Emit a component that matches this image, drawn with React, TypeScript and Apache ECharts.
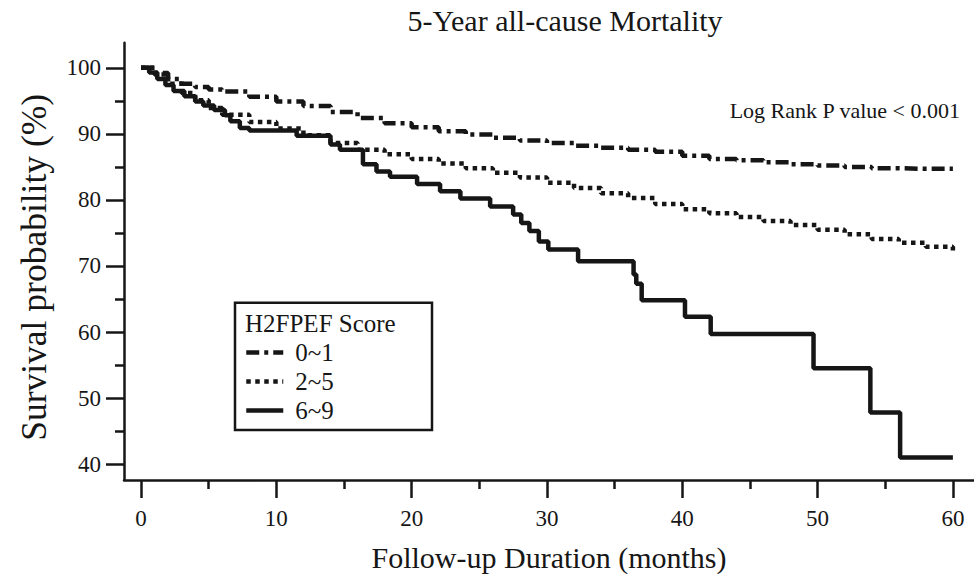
import React, { useEffect, useRef } from "react";
import * as echarts from "echarts";

// ---- Data ----
const seriesNames = ["0~1", "2~5", "6~9"];

// Score 0~1 (dash-dot)
const months01 = [0, 1, 2, 3, 4, 5, 6, 8, 10, 12, 14, 16, 18, 20, 22, 24, 26, 28, 30, 32, 34, 36, 38, 40, 42, 44, 46, 48, 50, 52, 54, 56, 58, 60];
const surv01 = [100, 99.2, 98.3, 97.6, 97.1, 96.7, 96.4, 95.6, 94.9, 94.2, 93.3, 92.4, 91.6, 91.0, 90.4, 89.9, 89.4, 89.0, 88.6, 88.2, 87.9, 87.6, 87.3, 86.7, 86.2, 86.0, 85.7, 85.4, 85.2, 85.0, 84.8, 84.7, 84.7, 84.7];

// Score 2~5 (dotted)
const months25 = [0, 1, 2, 3, 4, 5, 6, 8, 10, 12, 14, 16, 18, 20, 22, 24, 26, 28, 30, 32, 34, 36, 38, 40, 42, 44, 46, 48, 50, 52, 54, 56, 58, 60];
const surv25 = [100, 99.0, 97.6, 96.2, 95.1, 93.9, 92.9, 91.8, 90.8, 89.8, 88.6, 87.6, 86.9, 86.2, 85.5, 84.8, 84.1, 83.4, 82.6, 81.8, 81.0, 80.3, 79.4, 78.6, 78.0, 77.4, 76.8, 76.2, 75.5, 74.8, 74.1, 73.5, 72.9, 72.0];

// Score 6~9 (solid)
const months69 = [0, 0.6, 1.2, 1.8, 2.4, 3.2, 4.0, 4.6, 5.4, 6.2, 6.6, 7.3, 8.0, 11.5, 14.0, 14.7, 16.4, 17.4, 18.4, 20.4, 22.1, 23.6, 25.8, 27.5, 28.1, 28.7, 29.4, 30.1, 32.3, 36.4, 36.6, 37.0, 40.2, 42.1, 49.7, 53.9, 56.1, 60];
const surv69 = [100, 99.3, 98.3, 97.4, 96.5, 95.7, 94.9, 94.3, 93.6, 92.8, 91.9, 90.9, 90.5, 89.7, 88.4, 87.6, 85.4, 84.3, 83.5, 82.4, 81.3, 80.2, 79.0, 77.8, 76.5, 75.3, 73.7, 72.5, 70.7, 68.7, 67.3, 64.8, 62.3, 59.7, 54.5, 47.8, 41.0, 41.0];

// Axis ticks
const xMajorTicks = [0, 10, 20, 30, 40, 50, 60];
const xMinorTicks = [5, 15, 25, 35, 45, 55];
const yMajorTicks = [40, 50, 60, 70, 80, 90, 100];
const yMinorTicks = [45, 55, 65, 75, 85, 95];

const titleText = "5-Year all-cause Mortality";
const xTitle = "Follow-up Duration (months)";
const yTitle = "Survival probability (%)";
const legendTitle = "H2FPEF Score";
const pValueText = "Log Rank P value < 0.001";

// ---- Styling ----
const FONT = '"Liberation Serif", "Times New Roman", serif';
const INK = "#161616";
const X_MIN = -1.26;
const X_MAX = 61.56;
const Y_MIN = 37.6;
const Y_MAX = 103.8;

const lineDashes: any[] = [[13, 5, 4, 5], [4.5, 4.5], "solid"];

function pairs(xs: number[], ys: number[]) {
  return xs.map((x, i) => [x, ys[i]]);
}

export default function App() {
  const ref = useRef<HTMLDivElement>(null);

  useEffect(() => {
    if (!ref.current) return;
    const chart = echarts.init(ref.current, undefined, { renderer: "svg" });

    const dataSets = [pairs(months01, surv01), pairs(months25, surv25), pairs(months69, surv69)];

    const axisLineStyle = { color: INK, width: 2.5 };

    const option: any = {
      animation: false,
      backgroundColor: "#ffffff",
      title: {
        text: titleText,
        left: 560,
        textAlign: "center",
        top: 0,
        textStyle: { fontFamily: FONT, fontSize: 30, fontWeight: "normal", color: INK },
      },
      grid: { left: 124, right: 0, top: 42.7, bottom: 100, containLabel: false },
      xAxis: [
        {
          type: "value",
          min: X_MIN,
          max: X_MAX,
          position: "bottom",
          name: xTitle,
          nameLocation: "middle",
          nameGap: 62,
          nameTextStyle: { fontFamily: FONT, fontSize: 30, color: INK },
          axisLine: { show: true, onZero: false, lineStyle: axisLineStyle },
          axisTick: { show: true, customValues: xMajorTicks, length: 18, lineStyle: { color: INK, width: 2.5 } },
          axisLabel: { show: true, customValues: xMajorTicks, margin: 27, fontFamily: FONT, fontSize: 23, color: INK },
          splitLine: { show: false },
        },
        {
          type: "value",
          min: X_MIN,
          max: X_MAX,
          position: "bottom",
          axisLine: { show: false, onZero: false },
          axisTick: { show: true, customValues: xMinorTicks, length: 9, lineStyle: { color: INK, width: 2.5 } },
          axisLabel: { show: false },
          splitLine: { show: false },
        },
      ],
      yAxis: [
        {
          type: "value",
          min: Y_MIN,
          max: Y_MAX,
          position: "left",
          name: yTitle,
          nameLocation: "middle",
          nameGap: 72,
          nameTextStyle: { fontFamily: FONT, fontSize: 35.5, color: INK, padding: [0, 12, 0, 0] },
          axisLine: { show: true, onZero: false, lineStyle: axisLineStyle },
          axisTick: { show: true, customValues: yMajorTicks, length: 18, lineStyle: { color: INK, width: 2.5 } },
          axisLabel: { show: true, customValues: yMajorTicks, margin: 23, fontFamily: FONT, fontSize: 23, color: INK },
          splitLine: { show: false },
        },
        {
          type: "value",
          min: Y_MIN,
          max: Y_MAX,
          position: "left",
          axisLine: { show: false, onZero: false },
          axisTick: { show: true, customValues: yMinorTicks, length: 9, lineStyle: { color: INK, width: 2.5 } },
          axisLabel: { show: false },
          splitLine: { show: false },
        },
      ],
      legend: {
        orient: "vertical",
        left: 244,
        top: 340,
        padding: 0,
        itemWidth: 37,
        itemHeight: 14,
        itemGap: 4,
        selectedMode: false,
        data: seriesNames,
        itemStyle: { opacity: 0 },
        lineStyle: { width: 4.5 },
        textStyle: { fontFamily: FONT, fontSize: 25, color: INK, padding: [0, 0, 0, 7] },
      },
      graphic: [
        {
          type: "rect",
          shape: { x: 235, y: 302.7, width: 197, height: 127.3 },
          style: { fill: "transparent", stroke: INK, lineWidth: 2.5 },
          silent: true,
        },
        {
          type: "text",
          x: 245,
          y: 323,
          style: { text: legendTitle, fontFamily: FONT, fontSize: 25, fill: INK, align: "left", verticalAlign: "middle" },
        },
        {
          type: "text",
          x: 960,
          y: 110,
          style: { text: pValueText, fontFamily: FONT, fontSize: 22, fill: INK, align: "right", verticalAlign: "middle" },
        },
      ],
      series: seriesNames.map((name, i) => ({
        name,
        type: "line",
        step: "end",
        symbol: "none",
        xAxisIndex: 0,
        yAxisIndex: 0,
        data: dataSets[i],
        color: INK,
        lineStyle: { color: INK, width: 4.5, type: lineDashes[i], cap: "butt" },
      })),
    };

    chart.setOption(option);
    return () => chart.dispose();
  }, []);

  return (
    <div
      ref={ref}
      style={{ position: "absolute", left: 0, top: 0, width: 974, height: 580, background: "#fff" }}
    />
  );
}
